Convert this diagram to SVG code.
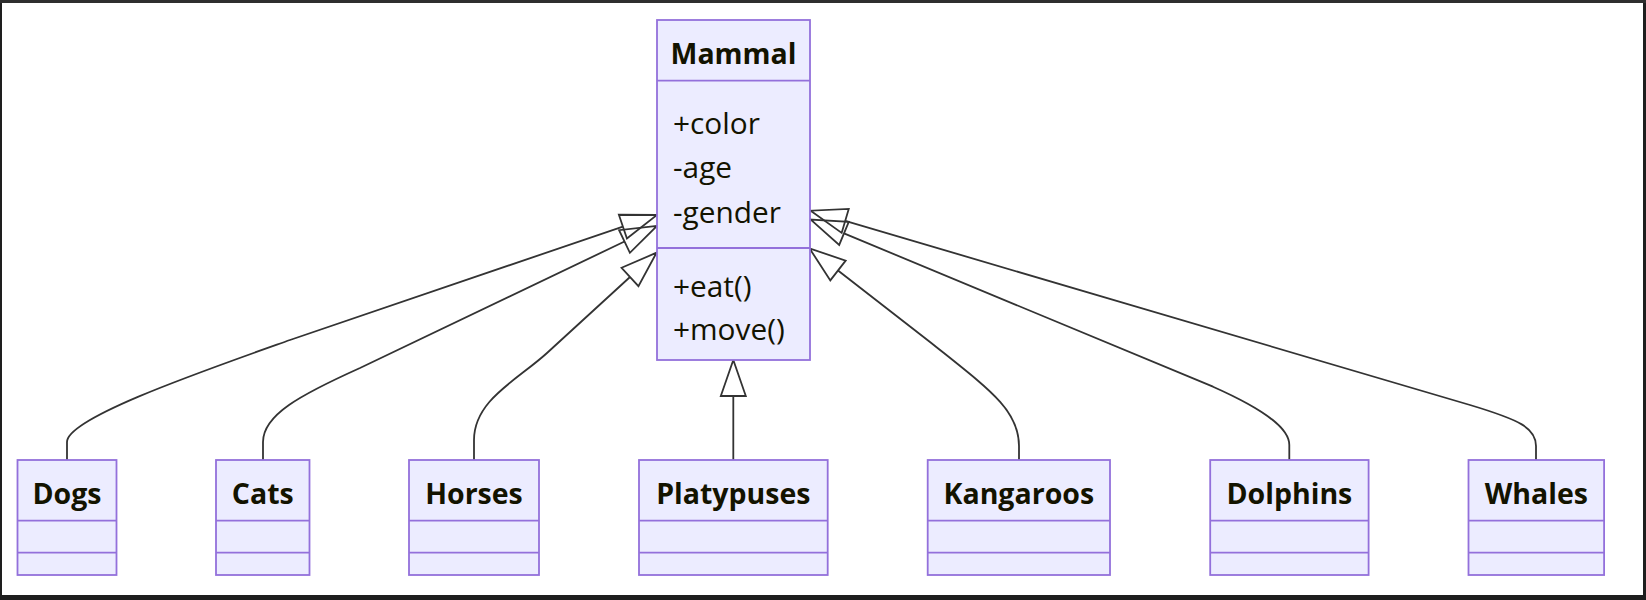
<svg xmlns="http://www.w3.org/2000/svg" width="1646" height="600" viewBox="0 0 1646 600">
<style>
.box{fill:#ECECFF;stroke:#9370DB;stroke-width:1.8}
.div{stroke:#9370DB;stroke-width:1.8;fill:none}
.title{font-family:"Open Sans","DejaVu Sans",sans-serif;font-weight:bold;font-size:28.5px;fill:#131300;text-anchor:middle}
.member{font-family:"Open Sans","DejaVu Sans",sans-serif;font-size:29.8px;fill:#131300}
.edge{fill:none;stroke:#333333;stroke-width:1.8}
</style>
<defs>
<marker id="ext" viewBox="-3 -16 42 32" refX="0" refY="0" markerWidth="42" markerHeight="32" markerUnits="userSpaceOnUse" orient="auto">
<path d="M36,0 L0,-12.5 L0,12.5 Z" fill="none" stroke="#333333" stroke-width="1.8"/>
</marker>
</defs>
<rect x="0" y="0" width="1646" height="600" fill="#1e1e1e"/>
<rect x="0" y="0" width="1646" height="3" fill="#2e2e2e"/>
<rect x="2" y="3" width="1641" height="592" fill="#ffffff"/>

<g id="connectors">
<path class="edge" marker-end="url(#ext)" d="M67,460 L67,442 C67,418 200,372 290,340 L622.9,226.6"/>
<path class="edge" marker-end="url(#ext)" d="M263,460 L263,442 C263,415 300,395 360,368 L624.5,241.5"/>
<path class="edge" marker-end="url(#ext)" d="M474,460 L474,440 C474,400 517.5,380 547,353 L630,277"/>
<path class="edge" marker-end="url(#ext)" d="M733.3,460 L733.3,396"/>
<path class="edge" marker-end="url(#ext)" d="M1019,460 L1019,446 C1019,410 990,390 930,342 L838,270.5"/>
<path class="edge" marker-end="url(#ext)" d="M1289.3,460 L1289.3,445 C1289.3,430 1270,412 1213,386.7 L844,233.4"/>
<path class="edge" marker-end="url(#ext)" d="M1536,460 L1536,446 C1536,428 1520,420 1470,405 L845.2,220.9"/>
</g>

<g id="Mammal">
<rect class="box" x="657" y="20" width="153" height="340"/>
<line class="div" x1="657" y1="80.7" x2="810" y2="80.7"/>
<line class="div" x1="657" y1="248" x2="810" y2="248"/>
<text class="title" x="733.5" y="64">Mammal</text>
<text class="member" x="673" y="133.5">+color</text>
<text class="member" x="673" y="178">-age</text>
<text class="member" x="673" y="222.5">-gender</text>
<text class="member" x="673" y="297">+eat()</text>
<text class="member" x="673" y="339.5">+move()</text>
</g>

<g id="Dogs">
<rect class="box" x="17.5" y="460" width="99" height="115"/>
<line class="div" x1="17.5" y1="520.7" x2="116.5" y2="520.7"/>
<line class="div" x1="17.5" y1="552.7" x2="116.5" y2="552.7"/>
<text class="title" x="67" y="503.5">Dogs</text>
</g>

<g id="Cats">
<rect class="box" x="216" y="460" width="93.5" height="115"/>
<line class="div" x1="216" y1="520.7" x2="309.5" y2="520.7"/>
<line class="div" x1="216" y1="552.7" x2="309.5" y2="552.7"/>
<text class="title" x="262.8" y="503.5">Cats</text>
</g>

<g id="Horses">
<rect class="box" x="409" y="460" width="130" height="115"/>
<line class="div" x1="409" y1="520.7" x2="539" y2="520.7"/>
<line class="div" x1="409" y1="552.7" x2="539" y2="552.7"/>
<text class="title" x="474" y="503.5">Horses</text>
</g>

<g id="Platypuses">
<rect class="box" x="639" y="460" width="188.7" height="115"/>
<line class="div" x1="639" y1="520.7" x2="827.7" y2="520.7"/>
<line class="div" x1="639" y1="552.7" x2="827.7" y2="552.7"/>
<text class="title" x="733.3" y="503.5">Platypuses</text>
</g>

<g id="Kangaroos">
<rect class="box" x="927.7" y="460" width="182.3" height="115"/>
<line class="div" x1="927.7" y1="520.7" x2="1110" y2="520.7"/>
<line class="div" x1="927.7" y1="552.7" x2="1110" y2="552.7"/>
<text class="title" x="1018.8" y="503.5">Kangaroos</text>
</g>

<g id="Dolphins">
<rect class="box" x="1210.2" y="460" width="158.4" height="115"/>
<line class="div" x1="1210.2" y1="520.7" x2="1368.6" y2="520.7"/>
<line class="div" x1="1210.2" y1="552.7" x2="1368.6" y2="552.7"/>
<text class="title" x="1289.4" y="503.5">Dolphins</text>
</g>

<g id="Whales">
<rect class="box" x="1468.5" y="460" width="135.6" height="115"/>
<line class="div" x1="1468.5" y1="520.7" x2="1604.1" y2="520.7"/>
<line class="div" x1="1468.5" y1="552.7" x2="1604.1" y2="552.7"/>
<text class="title" x="1536.3" y="503.5">Whales</text>
</g>
</svg>
